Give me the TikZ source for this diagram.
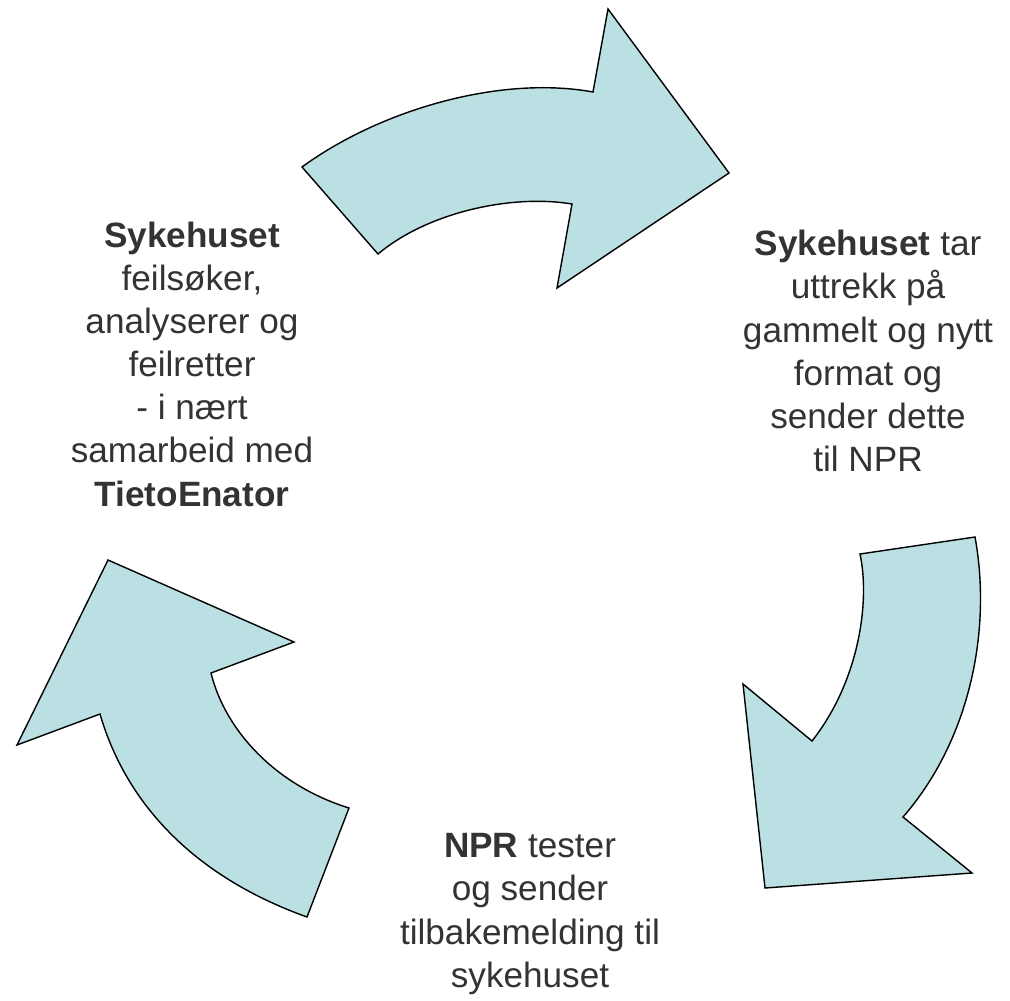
\documentclass[tikz,border=0pt]{standalone}
\usepackage{fontspec}
\setmainfont{Liberation Sans}
\usetikzlibrary{positioning}
\definecolor{pilfarge}{HTML}{BBE0E3}
\definecolor{tekstfarge}{HTML}{333333}

\begin{document}
\begin{tikzpicture}[x=0.025cm,y=-0.025cm,
      pil/.style={fill=pilfarge, draw=black, line width=1pt, line join=miter},
      tekst/.style={align=center, text=tekstfarge, inner sep=0pt, font=\fontsize{25}{30.7}\selectfont}]

\useasboundingbox (0,0) rectangle (1010,1000);

% pil oppe
\filldraw[pil] (302,167) .. controls (380,110) and (500,75) .. (593,92)
  -- (608,9) -- (729,173) -- (557,288) -- (572,204)
  .. controls (512,194) and (428,212) .. (378,254) -- cycle;

% pil til hoyre
\filldraw[pil] (975,537) .. controls (992,630) and (970,740) .. (903,817)
  -- (972,873) -- (765,888) -- (743,684) -- (812,741)
  .. controls (860,680) and (870,600) .. (860,554) -- cycle;

% pil til venstre
\filldraw[pil] (349,808) .. controls (275,785) and (225,730) .. (211,673)
  -- (294,642) -- (108,560) -- (17,745) -- (100,714)
  .. controls (125,800) and (190,875) .. (307,917) -- cycle;

\node[tekst] (feil) at (192,364) {\textbf{Sykehuset}\\feilsøker,\\analyserer og\\feilretter\\- i nært\\samarbeid med\\\textbf{TietoEnator}};
\node[tekst] (uttrekk) at (868,351) {\textbf{Sykehuset} tar\\uttrekk på\\gammelt og nytt\\format og\\sender dette\\til NPR};
\node[tekst] (npr) at (530,914) {\textbf{NPR} tester\\og sender\\tilbakemelding til\\sykehuset};

\end{tikzpicture}
\end{document}
